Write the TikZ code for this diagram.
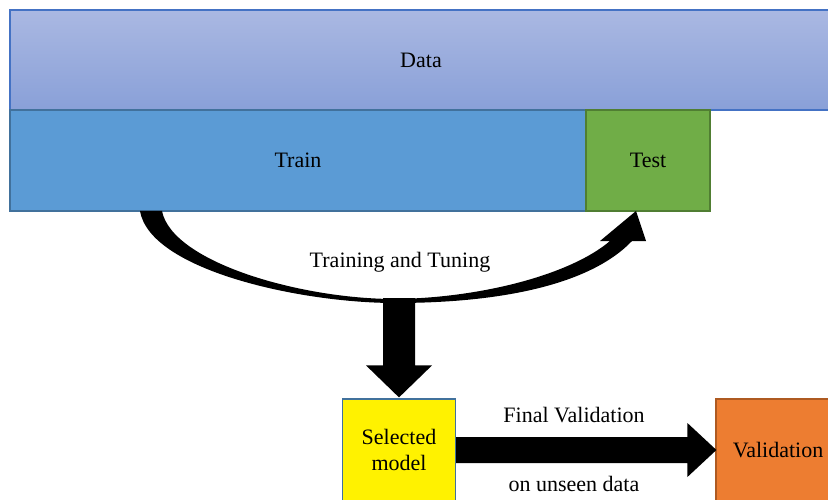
\documentclass[tikz,border=0pt]{standalone}
\usepackage{fontspec}
\setmainfont{Liberation Serif}
\usetikzlibrary{calc}
\definecolor{datatop}{RGB}{170,184,226}
\definecolor{databot}{RGB}{137,160,216}
\definecolor{databorder}{RGB}{68,114,196}
\definecolor{trainfill}{RGB}{91,155,213}
\definecolor{blueborder}{RGB}{65,113,156}
\definecolor{testfill}{RGB}{112,173,71}
\definecolor{testborder}{RGB}{80,126,50}
\definecolor{valfill}{RGB}{237,125,49}
\definecolor{valborder}{RGB}{174,90,33}
\begin{document}
\begin{tikzpicture}[x=1pt,y=-1pt,
  box/.style={draw, line width=1.2pt, inner sep=0pt, align=center, font=\fontsize{22}{26}\selectfont},
  lbl/.style={inner sep=0pt, font=\fontsize{22}{26}\selectfont}]
\useasboundingbox (0,0) rectangle (828,500);
% boxes
\node[box, draw=databorder, top color=datatop, bottom color=databot, minimum width=822pt, minimum height=100pt] (data) at (421,60) {Data};
\node[box, draw=blueborder, fill=trainfill, minimum width=576pt, minimum height=101pt] (train) at (298,160.5) {Train};
\node[box, draw=testborder, fill=testfill, minimum width=124pt, minimum height=101pt] (test) at (648,160.5) {Test};
\node[box, draw=blueborder, fill=yellow, minimum width=113pt, minimum height=102pt] (sel) at (399,450) {Selected\\model};
\node[box, draw=valborder, fill=valfill, minimum width=124pt, minimum height=102pt] (val) at (778,450) {Validation};
% curved arrow from Train to Test
\coordinate (cstart) at (151,211);
\coordinate (ctip) at (636,211);
\fill (140,211) .. controls (150,270) and (300,303) .. (395,303)
  .. controls (500,303) and (590,285) .. (632,241)
  -- (646,241) -- (ctip) -- (600,241) -- (610,241)
  .. controls (570,275) and (480,298) .. (395,299)
  .. controls (300,299) and (172,262) .. (162,211) -- cycle;
\node[lbl] (tt) at (400,262) {Training and Tuning};
% down arrow
\coordinate (cb) at (399,298);
\fill ($(cb)+(-16,0)$) -- ($(cb)+(16,0)$) -- ($(sel.north)+(16,-33)$)
  -- ($(sel.north)+(33,-33)$) -- ($(sel.north)+(0,-1)$)
  -- ($(sel.north)+(-33,-33)$) -- ($(sel.north)+(-16,-33)$) -- cycle;
% right arrow
\fill ($(sel.east)+(0,-13)$) -- ($(val.west)+(-28,-13)$) -- ($(val.west)+(-28,-27)$)
  -- ($(val.west)+(1,0)$) -- ($(val.west)+(-28,27)$) -- ($(val.west)+(-28,13)$)
  -- ($(sel.east)+(0,13)$) -- cycle;
\node[lbl] (fv) at (574,415) {Final Validation};
\node[lbl] (ud) at (574,484) {on unseen data};
\end{tikzpicture}
\end{document}
